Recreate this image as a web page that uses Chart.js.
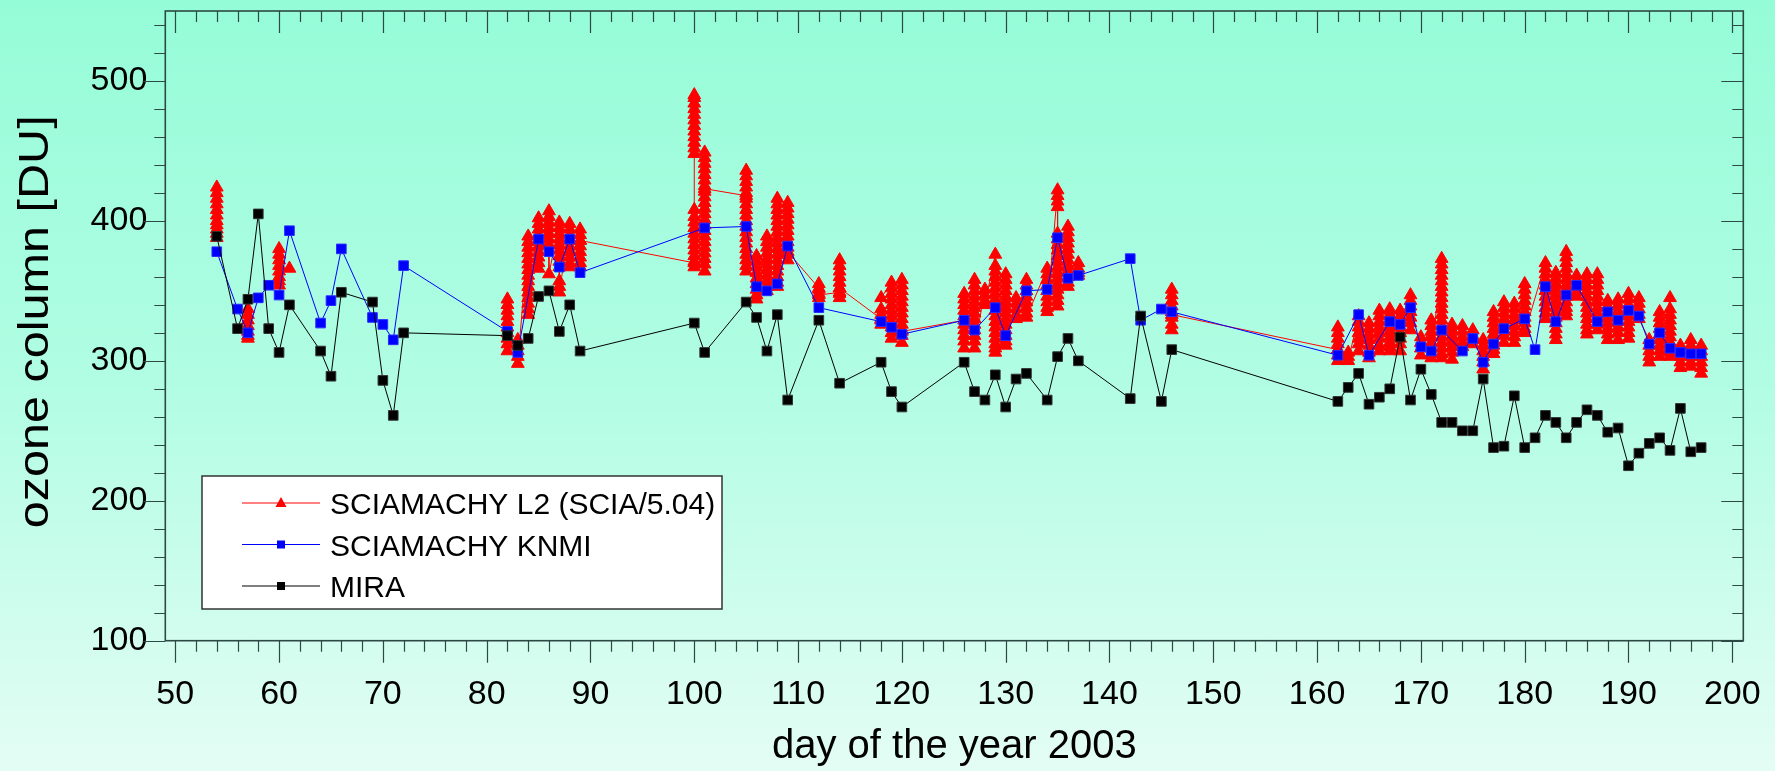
<!DOCTYPE html>
<html>
<head>
<meta charset="utf-8">
<title>Ozone column 2003</title>
<script src="https://cdn.jsdelivr.net/npm/chart.js@4.4.1/dist/chart.umd.min.js"></script>
<style>
  html, body { margin: 0; padding: 0; }
  body {
    width: 1775px;
    height: 771px;
    overflow: hidden;
    background: linear-gradient(to bottom, #95fcd8 0%, #b1fde3 50%, #e4fdf4 100%);
  }
  canvas { display: block; }
</style>
</head>
<body>
<canvas id="ozone-chart" width="1775" height="771"></canvas>
<script>
// Datos (día del año 2003, columna de ozono en DU)

// Estación de tierra MIRA, un valor por día
var miraDays = [54, 56, 57, 58, 59, 60, 61, 64, 65, 66, 69, 70, 71, 72,
    82, 83, 84, 85, 86, 87, 88, 89, 100, 101, 105, 106, 107, 108, 109, 112, 114,
    118, 119, 120, 126, 127, 128, 129, 130, 131, 132, 134, 135, 136, 137,
    142, 143, 145, 146, 162, 163, 164, 165, 166, 167, 168, 169, 170, 171,
    172, 173, 174, 175, 176, 177, 178, 179, 180, 181, 182, 183, 184, 185,
    186, 187, 188, 189, 190, 191, 192, 193, 194, 195, 196, 197];
var miraOzone = [389, 323, 344, 405, 323, 306, 340, 307, 289, 349, 342, 286, 261, 320,
    318, 311, 316, 346, 350, 321, 340, 307, 327, 306, 342, 331, 307, 333, 272, 329, 284,
    299, 278, 267, 299, 278, 272, 290, 267, 287, 291, 272, 303, 316, 300,
    273, 332, 271, 308, 271, 281, 291, 269, 274, 280, 317, 272, 294, 276,
    256, 256, 250, 250, 287, 238, 239, 275, 238, 245, 261, 256, 245, 256,
    265, 261, 249, 252, 225, 234, 241, 245, 236, 266, 235, 238];

// SCIAMACHY KNMI, un valor por día
var knmiDays = [54, 56, 57, 58, 59, 60, 61, 64, 65, 66, 69, 70, 71, 72,
    82, 83, 85, 86, 87, 88, 89, 101, 105, 106, 107, 108, 109, 112,
    118, 119, 120, 126, 127, 129, 130, 132, 134, 135, 136, 137,
    142, 143, 145, 146, 162, 164, 165, 167, 168, 169, 170, 171, 172,
    174, 175, 176, 177, 178, 180, 181, 182, 183, 184, 185,
    187, 188, 189, 190, 191, 192, 193, 194, 195, 196, 197];
var knmiOzone = [378, 337, 320, 345, 354, 347, 393, 327, 343, 380, 331, 326, 315, 368,
    321, 306, 387, 378, 367, 387, 363, 395, 396, 353, 350, 355, 382, 338,
    328, 324, 319, 329, 322, 338, 318, 350, 351, 388, 359, 361,
    373, 329, 337, 335, 304, 333, 304, 328, 326, 338, 310, 307, 322,
    307, 316, 299, 312, 323, 330, 308, 353, 328, 347, 354,
    328, 335, 329, 336, 332, 312, 320, 309, 306, 305, 305];

// SCIAMACHY L2: varias órbitas por día, una lista por día
var l2Days = [54, 57, 60, 61, 82, 83, 84, 85, 86, 87, 88, 89, 100, 101,
    105, 106, 107, 108, 109, 112, 114, 118, 119, 120, 126, 127, 128, 129,
    130, 131, 132, 134, 135, 136, 137, 146, 162, 163, 164, 165, 166, 167,
    168, 169, 170, 171, 172, 173, 174, 175, 176, 177, 178, 179, 180, 182,
    183, 184, 185, 186, 187, 188, 189, 190, 191, 192, 193, 194, 195, 196, 197];
var l2Ozone = [
    [424, 420, 416, 412, 408, 404, 400, 397, 394, 391, 388],
    [337, 333, 329, 325, 321, 318, 316],
    [380, 376, 372, 368, 364, 360, 357, 354],
    [366],
    [344, 340, 336, 332, 328, 324, 320, 316, 312, 307],
    [315, 311, 307, 303, 298],
    [389, 385, 381, 377, 373, 369, 365, 361, 357, 353, 349, 345, 341, 337, 333],
    [402, 398, 394, 390, 386, 382, 378, 374, 370, 366],
    [407, 403, 399, 395, 391, 387, 383, 362],
    [399, 395, 391, 387, 383, 379, 375, 371, 367, 357, 353, 349],
    [398, 394, 390, 386, 382, 378, 374, 370, 367],
    [394, 390, 386, 382, 378, 374, 370, 367, 386],
    [370, 367, 371, 375, 379, 383, 387, 391, 395, 399, 403, 408,
        452, 456, 460, 464, 468, 472, 476, 480, 484, 488, 490, 448],
    [449, 445, 441, 437, 433, 429, 425, 421, 417, 413, 409, 405, 401, 397,
        393, 389, 385, 381, 377, 373, 369, 364, 423],
    [418, 436, 432, 428, 424, 420, 416, 412, 408, 404, 400, 396, 392, 388,
        384, 380, 376, 372, 368, 364],
    [375, 371, 367, 363, 359, 355, 351, 347, 344],
    [389, 385, 381, 377, 373, 369, 365, 361, 357, 353, 350],
    [416, 412, 408, 404, 400, 396, 392, 388, 384, 380, 376, 372, 368, 364, 360, 356, 353],
    [413, 409, 405, 401, 397, 393, 389, 385, 381, 376, 372, 378],
    [352, 355, 351, 348, 345, 347],
    [349, 372, 368, 364, 360, 356, 352, 348, 345, 352],
    [330, 326, 329, 333, 337, 345],
    [356, 352, 348, 344, 340, 336, 332, 328, 324, 320, 316],
    [358, 354, 350, 346, 342, 338, 334, 330, 326, 322, 318, 313, 321],
    [329, 348, 344, 340, 336, 332, 326, 322, 318, 314, 309],
    [358, 354, 350, 346, 342, 338, 334, 330, 326, 322, 318, 314, 309],
    [351, 347, 343, 340],
    [376, 368, 364, 360, 356, 352, 348, 344, 340, 336, 332, 328, 324, 320, 316, 312, 309, 306],
    [362, 358, 354, 350, 346, 342, 338, 334, 330, 326, 322, 318, 314, 311],
    [345, 341, 337, 333, 330],
    [358, 354, 350, 346, 342, 338, 334, 331],
    [366, 362, 358, 354, 350, 346, 342, 338, 335],
    [422, 418, 414, 410, 391, 387, 383, 379, 375, 371, 367, 363, 359, 355, 351, 347, 343, 339],
    [396, 392, 388, 384, 380, 376, 372, 368, 364, 360, 356, 353],
    [370, 366, 363, 361],
    [351, 347, 343, 339, 335, 331, 326, 322, 333],
    [308, 324, 320, 316, 312, 308, 304, 300],
    [306, 303, 300],
    [332, 328, 324, 320, 316, 312, 307],
    [327, 323, 319, 315, 311, 306, 302],
    [336, 332, 328, 324, 320, 316, 311, 307],
    [337, 333, 329, 325, 321, 317, 313, 310, 307],
    [336, 332, 328, 324, 320, 316, 312, 307],
    [347, 343, 339, 335, 331, 327, 322],
    [317, 313, 309, 304],
    [329, 325, 321, 317, 313, 309, 305, 302],
    [373, 369, 365, 361, 357, 353, 349, 345, 341, 337, 333, 329, 325, 321, 317, 313, 309, 305, 302],
    [326, 322, 318, 314, 310, 306, 301],
    [325, 321, 317, 313, 310],
    [322, 318, 315, 312],
    [315, 311, 307, 303, 299, 294],
    [335, 331, 327, 323, 319, 315, 311, 308, 305],
    [342, 338, 334, 330, 326, 322, 318, 313],
    [341, 337, 333, 329, 325, 321, 317, 313],
    [355, 351, 347, 343, 339, 335, 331, 327, 323, 320],
    [370, 366, 362, 358, 354, 350, 346, 342, 338, 334, 330],
    [363, 359, 355, 351, 347, 343, 339, 335, 331, 327, 323, 319, 315],
    [378, 374, 370, 366, 362, 358, 354, 350, 346, 342, 338, 335, 332],
    [361, 357, 353, 349, 346],
    [362, 358, 354, 350, 346, 342, 338, 334, 330, 326, 322, 319],
    [362, 358, 354, 350, 346, 342, 338, 334, 330, 326, 322],
    [343, 339, 335, 331, 327, 323, 319, 315],
    [344, 340, 336, 332, 328, 324, 320, 315],
    [348, 344, 340, 336, 332, 328, 324, 320, 316],
    [345, 341, 337, 333, 330],
    [315, 311, 307, 303, 299],
    [335, 331, 327, 323, 319, 315, 311, 307, 303],
    [345, 337, 333, 329, 325, 321, 317, 313, 309, 306, 303],
    [311, 307, 303, 299, 295],
    [315, 311, 307, 303, 299, 296],
    [311, 307, 303, 299, 295, 291]
];
// días después de los cuales la línea L2 se interrumpe
var l2Breaks = [54, 57, 60, 61, 137];

// Etiquetas de los ejes
var dayTicks = [50, 60, 70, 80, 90, 100, 110, 120, 130, 140, 150, 160, 170, 180, 190, 200];
var ozoneTicks = [100, 200, 300, 400, 500];
var dayMinorStep = 2;
var ozoneMinorStep = 20;
var xTitle = "day of the year 2003";
var yTitle = "ozone column [DU]";

var fontFamily = '"Liberation Sans", Arial, Helvetica, sans-serif';

// Construir los puntos para Chart.js
var l2Points = [];
l2Days.forEach(function (day, i) {
    l2Ozone[i].forEach(function (v) {
        l2Points.push({ x: day, y: v });
    });
    if (l2Breaks.indexOf(day) >= 0) {
        l2Points.push({ x: day, y: null });
    }
});
var knmiPoints = knmiDays.map(function (d, i) { return { x: d, y: knmiOzone[i] }; });
var miraPoints = miraDays.map(function (d, i) { return { x: d, y: miraOzone[i] }; });

// Marco y marcas de los ejes en los cuatro lados
var plotFrame = {
    id: "plotFrame",
    afterDatasetsDraw: function (chart) {
        var a = chart.chartArea;
        var xs = chart.scales.x;
        var ys = chart.scales.y;
        var c = chart.ctx;
        c.save();
        c.strokeStyle = "#2c4a43";
        c.lineWidth = 1.2;
        c.beginPath();
        for (var d = dayTicks[0]; d <= dayTicks[dayTicks.length - 1]; d += dayMinorStep) {
            var px = Math.round(xs.getPixelForValue(d)) + 0.5;
            var len = d % 10 === 0 ? 22 : 11;
            c.moveTo(px, a.bottom);
            c.lineTo(px, a.bottom + len);
            c.moveTo(px, a.top);
            c.lineTo(px, a.top + len);
        }
        for (var v = ozoneTicks[0]; v < ys.max; v += ozoneMinorStep) {
            var py = Math.round(ys.getPixelForValue(v)) + 0.5;
            var len2 = v % 100 === 0 ? 22 : 11;
            c.moveTo(a.left - len2, py);
            c.lineTo(a.left, py);
            c.moveTo(a.right - len2, py);
            c.lineTo(a.right, py);
        }
        c.stroke();
        c.lineWidth = 1.6;
        c.strokeRect(a.left, a.top, a.right - a.left, a.bottom - a.top);
        c.restore();
    }
};

// Título del eje Y (algo estirado como en el original)
var ozoneAxisTitle = {
    id: "ozoneAxisTitle",
    afterDraw: function (chart) {
        var c = chart.ctx;
        var a = chart.chartArea;
        c.save();
        c.font = "42px " + fontFamily;
        c.fillStyle = "#000";
        c.textAlign = "center";
        c.textBaseline = "alphabetic";
        var w = c.measureText(yTitle).width;
        c.translate(48, (a.top + a.bottom) / 2 - 4);
        c.rotate(-Math.PI / 2);
        c.scale(413 / w, 1);
        c.fillText(yTitle, 0, 0);
        c.restore();
    }
};

// Leyenda en un recuadro blanco dentro del área del gráfico
var boxLegend = {
    id: "boxLegend",
    afterDraw: function (chart) {
        var c = chart.ctx;
        c.save();
        c.fillStyle = "#ffffff";
        c.fillRect(202, 476, 520, 133);
        c.strokeStyle = "#333333";
        c.lineWidth = 1.5;
        c.strokeRect(202, 476, 520, 133);
        chart.data.datasets.forEach(function (ds, i) {
            var ry = 503 + i * 41.5;
            c.strokeStyle = ds.borderColor;
            c.lineWidth = 1;
            c.beginPath();
            c.moveTo(242, ry);
            c.lineTo(320, ry);
            c.stroke();
            c.fillStyle = ds.pointBackgroundColor;
            if (ds.pointStyle === "triangle") {
                c.beginPath();
                c.moveTo(281, ry - 6);
                c.lineTo(286.5, ry + 4);
                c.lineTo(275.5, ry + 4);
                c.closePath();
                c.fill();
            } else {
                c.fillRect(277, ry - 4, 8, 8);
            }
            c.fillStyle = "#000";
            c.font = "30px " + fontFamily;
            c.textAlign = "left";
            c.textBaseline = "alphabetic";
            c.fillText(ds.label, 330, ry + 11);
        });
        c.restore();
    }
};

var ctx = document.getElementById("ozone-chart").getContext("2d");
var ozoneChart = new Chart(ctx, {
    type: "line",
    data: {
        datasets: [
            {
                label: "SCIAMACHY L2 (SCIA/5.04)",
                data: l2Points,
                order: 3,
                borderColor: "#ff0000",
                backgroundColor: "#ff0000",
                borderWidth: 1,
                pointStyle: "triangle",
                pointRadius: 7.4,
                pointBorderWidth: 1,
                pointBackgroundColor: "#ff0000",
                pointBorderColor: "#ff0000",
                spanGaps: false,
                tension: 0,
            },
            {
                label: "SCIAMACHY KNMI",
                data: knmiPoints,
                order: 2,
                borderColor: "#0000ff",
                backgroundColor: "#0000ff",
                borderWidth: 1,
                pointStyle: "rect",
                pointRadius: 6.8,
                pointBorderWidth: 1,
                pointBackgroundColor: "#0000ff",
                pointBorderColor: "#2a2aff",
                tension: 0,
            },
            {
                label: "MIRA",
                data: miraPoints,
                order: 1,
                borderColor: "#000000",
                backgroundColor: "#000000",
                borderWidth: 1,
                pointStyle: "rect",
                pointRadius: 6.8,
                pointBorderWidth: 1,
                pointBackgroundColor: "#000000",
                pointBorderColor: "#333333",
                tension: 0,
            },
        ],
    },
    options: {
        responsive: false,
        animation: false,
        devicePixelRatio: 1,
        layout: { padding: { left: 0, top: 11, right: 31.7, bottom: 0 } },
        plugins: {
            legend: { display: false },
            tooltip: { enabled: false },
        },
        scales: {
            x: {
                type: "linear",
                position: "bottom",
                min: 49.04,
                max: 201.06,
                // marcas invisibles: solo sirven para separar las etiquetas del eje
                grid: { display: true, drawOnChartArea: false, drawTicks: true, tickLength: 34, tickColor: "rgba(0,0,0,0)" },
                border: { display: false },
                afterBuildTicks: function (scale) {
                    scale.ticks = dayTicks.map(function (v) { return { value: v }; });
                },
                afterFit: function (scale) {
                    scale.height = 130.3;
                },
                ticks: {
                    autoSkip: false,
                    maxRotation: 0,
                    padding: 0,
                    color: "#000",
                    font: { family: fontFamily, size: 34 },
                },
                title: {
                    display: true,
                    text: xTitle,
                    color: "#000",
                    font: { family: fontFamily, size: 40 },
                    padding: { top: 0, bottom: 0 },
                },
            },
            y: {
                type: "linear",
                min: 100,
                max: 550,
                grid: { display: true, drawOnChartArea: false, drawTicks: true, tickLength: 18, tickColor: "rgba(0,0,0,0)" },
                border: { display: false },
                afterBuildTicks: function (scale) {
                    scale.ticks = ozoneTicks.map(function (v) { return { value: v }; });
                },
                afterFit: function (scale) {
                    scale.width = 165.3;
                },
                ticks: {
                    padding: 0,
                    color: "#000",
                    font: { family: fontFamily, size: 34, lineHeight: 0.5 },
                },
            },
        },
    },
    plugins: [plotFrame, ozoneAxisTitle, boxLegend],
});
</script>
</body>
</html>
